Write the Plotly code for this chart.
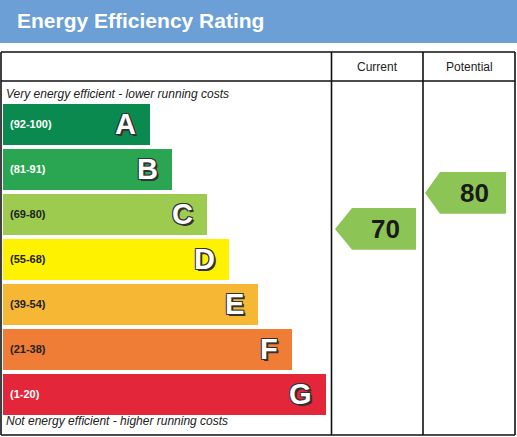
import plotly.graph_objects as go

# ---- data ----
bands = ["A", "B", "C", "D", "E", "F", "G"]
ranges = ["(92-100)", "(81-91)", "(69-80)", "(55-68)", "(39-54)", "(21-38)", "(1-20)"]
bar_len = [147, 169, 204, 226, 255, 289, 323]
band_colors = ["#0a8a4e", "#2aa653", "#9dcb50", "#fff200", "#f6b734", "#ef7d36", "#e3263a"]
label_colors = ["white", "white", "#222222", "#222222", "#222222", "#222222", "white"]
current_score = 70
potential_score = 80
arrow_color = "#8cc556"

W, H = 517, 437
fig = go.Figure()

# bars (category axis y2)
fig.add_trace(go.Bar(
    y=bands, x=bar_len, base=3, orientation="h",
    marker=dict(color=band_colors, line=dict(width=0)),
    width=0.93, yaxis="y2", xaxis="x", hoverinfo="skip", showlegend=False,
))

shapes = []
ann = []

# header band
shapes.append(dict(type="rect", xref="x", yref="y", x0=0, x1=W, y0=0, y1=43,
                   fillcolor="#6b9fd6", line=dict(width=0), layer="below"))
ann.append(dict(x=15, y=20, xref="x", yref="y", text="<b>Energy Efficiency Rating</b>",
                showarrow=False, xanchor="left", yanchor="middle",
                font=dict(family="Liberation Sans, Arial", size=21, color="white")))

# table lines
lc = "#111111"
lw = 1.6
for (x0, y0, x1, y1) in [(1, 52, 515, 52), (1, 81, 515, 81), (1, 435, 515, 435),
                         (1, 52, 1, 435), (515, 52, 515, 435),
                         (331.5, 52, 331.5, 435), (423, 52, 423, 435)]:
    shapes.append(dict(type="line", xref="x", yref="y", x0=x0, y0=y0, x1=x1, y1=y1,
                       line=dict(color=lc, width=lw)))

ann.append(dict(x=377, y=67, xref="x", yref="y", text="Current", showarrow=False,
                font=dict(family="Liberation Sans, Arial", size=12, color="#222")))
ann.append(dict(x=469, y=67, xref="x", yref="y", text="Potential", showarrow=False,
                font=dict(family="Liberation Sans, Arial", size=12, color="#222")))
ann.append(dict(x=4, y=94, xref="x", yref="y", text="<i>Very energy efficient - lower running costs</i>",
                showarrow=False, xanchor="left",
                font=dict(family="Liberation Sans, Arial", size=12, color="#222")))
ann.append(dict(x=4, y=421, xref="x", yref="y", text="<i>Not energy efficient - higher running costs</i>",
                showarrow=False, xanchor="left",
                font=dict(family="Liberation Sans, Arial", size=12, color="#222")))

# band labels and letters
for b, r, L, lcol in zip(bands, ranges, bar_len, label_colors):
    ann.append(dict(x=8, y=b, xref="x", yref="y2", text=f"<b>{r}</b>", showarrow=False,
                    xanchor="left", font=dict(family="Liberation Sans, Arial", size=11, color=lcol)))
    ann.append(dict(x=3 + L - 12, y=b, xref="x", yref="y2", text=f"<b>{b}</b>", showarrow=False,
                    xanchor="right",
                    font=dict(family="Liberation Sans, Arial", size=29, color="white",
                              shadow="-1px -1px 0 #333, 1px -1px 0 #333, -1px 1px 0 #333, 1px 1px 0 #333, 2px 2px 0 #333")))

# rating arrows on score axis y3
half = 5.8
def arrow(score, x_tip, x_body, x_right):
    p = (f"M {x_tip},{score} L {x_body},{score + half} L {x_right},{score + half} "
         f"L {x_right},{score - half} L {x_body},{score - half} Z")
    shapes.append(dict(type="path", xref="x", yref="y3", path=p,
                       fillcolor=arrow_color, line=dict(width=0)))
    ann.append(dict(x=(x_body + x_right) / 2 + 1, y=score, xref="x", yref="y3",
                    text=f"<b>{score}</b>", showarrow=False,
                    font=dict(family="Liberation Sans, Arial", size=26, color="#1a1a1a")))

arrow(current_score, 335, 352, 416)
arrow(potential_score, 425, 440, 506)

fig.update_layout(
    width=W, height=H, margin=dict(l=0, r=0, t=0, b=0),
    paper_bgcolor="white", plot_bgcolor="white",
    xaxis=dict(range=[0, W], visible=False, fixedrange=True),
    yaxis=dict(range=[H, 0], visible=False, fixedrange=True),
    yaxis2=dict(domain=[1 - 416.5 / H, 1 - 101.5 / H], type="category",
                categoryorder="array", categoryarray=bands,
                range=[6.5, -0.5], visible=False, anchor="x"),
    yaxis3=dict(range=[12.2, 133.6], overlaying="y", visible=False, anchor="x"),
    shapes=shapes, annotations=ann, bargap=0,
)

fig.write_html("out.html")
